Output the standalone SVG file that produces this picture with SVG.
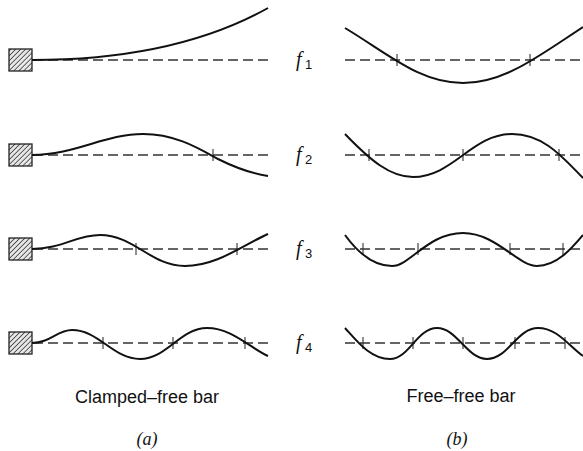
<svg xmlns="http://www.w3.org/2000/svg" width="583" height="451" viewBox="0 0 583 451">
<defs>
<pattern id="hatch" patternUnits="userSpaceOnUse" width="3.5" height="3.5" patternTransform="rotate(45)">
<rect width="3.5" height="3.5" fill="#e8e8e8"/>
<line x1="0" y1="0" x2="0" y2="3.5" stroke="#333" stroke-width="1.5"/>
</pattern>
</defs>
<style>
.axis{stroke:#333;stroke-width:1.3;stroke-dasharray:10 5;fill:none}
.mode{stroke:#111;stroke-width:2;fill:none}
.tick{stroke:#333;stroke-width:1.1}
.clamp{fill:url(#hatch);stroke:#222;stroke-width:1.3}
.f{font-family:"Liberation Serif",serif;font-style:italic;font-size:20px;fill:#111}
.sub{font-family:"Liberation Sans",sans-serif;font-size:13px;fill:#111}
.cap{font-family:"Liberation Sans",sans-serif;font-size:18px;fill:#111}
.lbl{font-family:"Liberation Serif",serif;font-style:italic;font-size:18px;fill:#111}
</style>
<rect width="583" height="451" fill="#fff"/>
<g id="clamps">
<rect class="clamp" x="9" y="49" width="23" height="22"/>
<rect class="clamp" x="9" y="144" width="23" height="22"/>
<rect class="clamp" x="9" y="238" width="23" height="22"/>
<rect class="clamp" x="9" y="332" width="23" height="22"/>
</g>
<g id="axes">
<line class="axis" x1="33" y1="60" x2="268" y2="60"/>
<line class="axis" x1="33" y1="155" x2="268" y2="155"/>
<line class="axis" x1="33" y1="249" x2="268" y2="249"/>
<line class="axis" x1="33" y1="343" x2="268" y2="343"/>
<line class="axis" x1="345" y1="60" x2="583" y2="60"/>
<line class="axis" x1="345" y1="155" x2="583" y2="155"/>
<line class="axis" x1="345" y1="249" x2="583" y2="249"/>
<line class="axis" x1="345" y1="343" x2="583" y2="343"/>
</g>
<g id="ticks">
<line class="tick" x1="213" y1="149" x2="213" y2="161"/>
<line class="tick" x1="136" y1="243" x2="136" y2="255"/>
<line class="tick" x1="237" y1="243" x2="237" y2="255"/>
<line class="tick" x1="103" y1="337" x2="103" y2="349"/>
<line class="tick" x1="173" y1="337" x2="173" y2="349"/>
<line class="tick" x1="245" y1="337" x2="245" y2="349"/>
<line class="tick" x1="397" y1="54" x2="397" y2="66"/>
<line class="tick" x1="530" y1="54" x2="530" y2="66"/>
<line class="tick" x1="369" y1="149" x2="369" y2="161"/>
<line class="tick" x1="463" y1="149" x2="463" y2="161"/>
<line class="tick" x1="559" y1="149" x2="559" y2="161"/>
<line class="tick" x1="363" y1="243" x2="363" y2="255"/>
<line class="tick" x1="418" y1="243" x2="418" y2="255"/>
<line class="tick" x1="510" y1="243" x2="510" y2="255"/>
<line class="tick" x1="563" y1="243" x2="563" y2="255"/>
<line class="tick" x1="363" y1="337" x2="363" y2="349"/>
<line class="tick" x1="413" y1="337" x2="413" y2="349"/>
<line class="tick" x1="463" y1="337" x2="463" y2="349"/>
<line class="tick" x1="515" y1="337" x2="515" y2="349"/>
<line class="tick" x1="565" y1="337" x2="565" y2="349"/>
</g>
<g id="modes">
<path class="mode" d="M32,60 C120,60 200,46 268,8"/>
<path class="mode" d="M32,155 C75,155 105,134 143,134 C175,134 198,148 218,159 C238,169 255,174 268,176"/>
<path class="mode" d="M32,249 C62,249 76,235 100,235 C134,235 151,266 185,266 C217,266 243,245 268,234"/>
<path class="mode" d="M32,343 C50,343 57,330 72,330 C99,330 113,359 140,359 C167,359 180,328 207,328 C232,328 250,348 268,356"/>
<path class="mode" d="M345,28 C390,55 420,83 463,83 C505,83 540,55 583,27"/>
<path class="mode" d="M345,134 C370,160 390,177 413,177 C453,177 472,134 512,134 C545,134 565,160 583,178"/>
<path class="mode" d="M345,235 C353,246 369,266 392,266 C410,266 428,233 463,233 C496,233 518,266 537,266 C557,266 572,248 583,235"/>
<path class="mode" d="M345,328 C356,340 370,359 390,359 C409,359 417,328 437,328 C457,328 467,359 487,359 C508,359 517,328 538,328 C557,328 568,345 583,356"/>
</g>
<g id="labels">
<text class="f" x="296" y="66">f</text><text class="sub" x="305" y="69">1</text>
<text class="f" x="296" y="161">f</text><text class="sub" x="305" y="164">2</text>
<text class="f" x="296" y="255">f</text><text class="sub" x="305" y="258">3</text>
<text class="f" x="296" y="349">f</text><text class="sub" x="305" y="352">4</text>
<text class="cap" x="147" y="403" text-anchor="middle">Clamped–free bar</text>
<text class="cap" x="461" y="402" text-anchor="middle">Free–free bar</text>
<text class="lbl" x="147" y="445" text-anchor="middle">(a)</text>
<text class="lbl" x="457" y="445" text-anchor="middle">(b)</text>
</g>
</svg>
